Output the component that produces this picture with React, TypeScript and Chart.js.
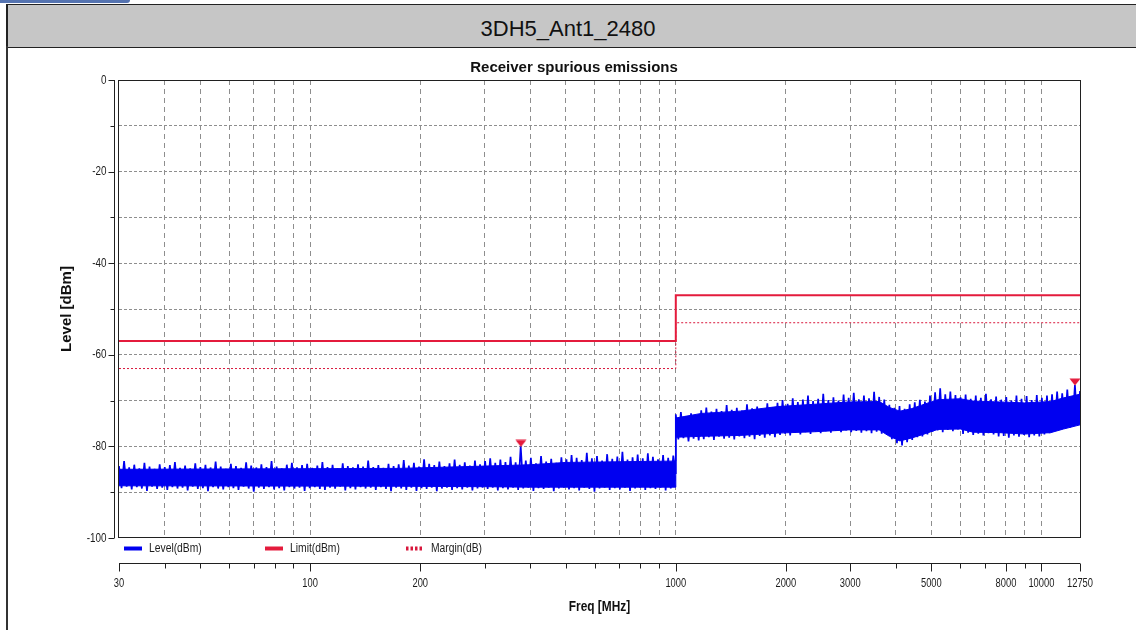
import React, { useEffect, useRef } from "react";
import { Chart, registerables } from "chart.js";

Chart.register(...registerables);

// ---------------- data ----------------
const pageTitle = "3DH5_Ant1_2480";
const chartTitle = "Receiver spurious emissions";
const xAxisTitle = "Freq [MHz]";
const yAxisTitle = "Level [dBm]";

const sweepStartMHz = [30, 1000];
const sweepStopMHz = [1000, 12750];

// measured level, 30 MHz .. 1000 MHz (dBm)
const level30to1000 = [
  -84.3, -89.1, -83.2, -88.8, -84.6, -89.4, -84.0, -88.9, -84.8, -89.2,
  -83.6, -89.7, -84.4, -88.8, -84.9, -89.3, -83.9, -89.0, -84.5, -89.5,
  -84.1, -88.9, -83.4, -89.2, -84.7, -89.0, -84.2, -89.6, -84.8, -88.8,
  -83.7, -89.3, -84.5, -89.1, -84.0, -89.8, -84.6, -88.9, -83.3, -89.2,
  -84.4, -89.4, -84.9, -88.9, -83.8, -89.1, -84.3, -89.5, -84.7, -88.8,
  -83.5, -89.2, -84.2, -89.9, -84.6, -89.0, -83.9, -89.3, -84.5, -88.9,
  -83.2, -89.4, -84.4, -89.1, -84.8, -89.6, -84.0, -88.9, -83.6, -89.2,
  -84.6, -89.0, -84.1, -89.7, -83.8, -89.1, -84.7, -88.9, -84.2, -89.3,
  -83.4, -89.5, -84.5, -89.0, -84.0, -89.2, -84.8, -88.8, -83.7, -89.6,
  -84.3, -89.1, -84.6, -89.4, -83.9, -88.9, -84.4, -89.2, -83.1, -89.0,
  -84.5, -89.5, -84.1, -88.9, -84.7, -89.3, -83.8, -89.8, -84.3, -89.0,
  -83.9, -89.2, -83.0, -89.5, -84.2, -89.0, -83.6, -89.7, -84.4, -89.1,
  -82.8, -89.3, -83.8, -89.0, -84.1, -89.8, -83.3, -89.2, -84.3, -89.0,
  -83.7, -89.5, -82.9, -89.1, -84.0, -89.4, -83.5, -89.0, -84.2, -89.6,
  -83.1, -89.2, -83.9, -89.0, -83.2, -89.3, -82.6, -89.0, -83.6, -89.6,
  -82.9, -89.1, -83.4, -89.4, -82.3, -89.0, -83.5, -89.5, -80.0, -89.2,
  -83.1, -89.0, -82.5, -89.7, -83.7, -89.1, -82.1, -89.3, -83.3, -89.0,
  -82.7, -89.8, -83.6, -89.2, -82.4, -89.0, -82.8, -89.4, -81.9, -89.1,
  -82.5, -89.6, -83.0, -89.0, -81.4, -89.3, -82.6, -89.9, -82.1, -89.2,
  -83.1, -89.0, -81.7, -89.5, -82.7, -89.1, -82.2, -89.4, -81.2, -89.0,
  -82.9, -89.7, -82.4, -89.2, -81.8, -89.0, -82.6, -89.5, -81.5, -89.1,
  -82.3, -89.3, -82.8, -89.0, -81.9, -89.6, -82.5, -89.2, -82.0, -86.0,
];

// measured level, 1000 MHz .. 12750 MHz (dBm)
const level1000to12750 = [
  -73.0, -78.5, -72.5, -78.2, -73.4, -78.9, -72.8, -78.3, -73.2, -78.7,
  -72.1, -78.4, -71.5, -78.0, -72.4, -78.6, -71.8, -77.9, -72.3, -78.3,
  -71.0, -78.1, -72.0, -78.5, -71.6, -77.8, -72.2, -78.2, -70.8, -77.9,
  -71.7, -78.4, -71.3, -77.7, -71.9, -78.1, -70.6, -77.6, -71.4, -78.0,
  -70.5, -77.5, -69.9, -77.2, -70.7, -77.6, -69.5, -77.0, -70.3, -77.4,
  -69.8, -76.9, -68.9, -77.3, -70.1, -76.8, -69.6, -77.1, -68.5, -76.7,
  -69.9, -77.0, -69.3, -76.6, -70.0, -76.9, -68.7, -76.5, -69.4, -76.9,
  -68.3, -76.6, -69.7, -77.0, -68.9, -76.7, -69.5, -77.1, -68.1, -76.8,
  -69.2, -77.2, -69.8, -77.4, -70.9, -78.4, -71.6, -79.3, -71.2, -79.8,
  -71.8, -79.1, -70.8, -78.6, -70.4, -78.0, -69.8, -77.8, -70.2, -77.4,
  -68.9, -76.8, -68.2, -76.5, -67.3, -76.9, -68.6, -76.4, -68.0, -76.7,
  -68.8, -76.3, -69.3, -77.3, -68.7, -77.0, -69.6, -77.5, -68.9, -77.2,
  -69.4, -77.6, -68.5, -77.1, -69.7, -77.4, -69.1, -77.8, -69.8, -77.7,
  -69.2, -78.1, -70.0, -77.6, -68.9, -77.9, -69.6, -77.5, -69.0, -78.0,
  -69.9, -77.6, -68.8, -77.8, -69.4, -77.4, -68.9, -77.1, -68.6, -76.6,
  -68.0, -76.2, -68.4, -75.9, -67.6, -75.8, -75.4, -66.6, -75.3, -67.9,
];

// dense core of the noise band, dBm
const coreFreq = [
  30, 175, 300, 400, 500, 1000, 1000, 1174, 1500, 1900, 2400, 2970, 3600, 3840,
  4100, 4400, 4700, 5200, 6000, 6500, 7700, 9000, 10600, 11500, 12750,
];
const coreTop = [
  -85.0, -84.8, -84.3, -84.0, -83.5, -83.2, -73.8, -72.8, -72.3, -71.3, -70.8,
  -70.3, -70.2, -71.5, -72.3, -71.8, -71.0, -69.8, -69.6, -70.1, -70.3, -70.5,
  -70.2, -69.4, -68.6,
];
const coreBottom = [
  -88.6, -88.7, -88.8, -88.9, -88.9, -88.9, -78.0, -77.8, -77.6, -77.1, -76.8,
  -76.4, -76.4, -77.8, -78.8, -78.2, -77.5, -76.3, -76.2, -76.9, -77.0, -77.3,
  -77.0, -76.2, -75.3,
];

const limitFreq = [30, 1000, 1000, 12750];
const limitLevel = [-57, -57, -47, -47];
const marginFreq = [30, 1000, 1000, 12750];
const marginLevel = [-63, -63, -53, -53];
const peakFreq = [377, 12350];
const peakLevel = [-80.0, -66.6];

const xGridValues = [
  40, 50, 60, 70, 80, 90, 100, 200, 300, 400, 500, 600, 700, 800, 900, 1000,
  2000, 3000, 4000, 5000, 6000, 7000, 8000, 9000, 10000,
];
const xTickLabels = [30, 100, 200, 1000, 2000, 3000, 5000, 8000, 10000, 12750];
const xRange = [30, 12750];
const yRange = [-100, 0];
const yGridValues = [-90, -80, -70, -60, -50, -40, -30, -20, -10];
const yTickMarks = [0, -10, -20, -30, -40, -50, -60, -70, -80, -90, -100];
const yTickLabels = [0, -20, -40, -60, -80, -100];
const legendLabels = ["Level(dBm)", "Limit(dBm)", "Margin(dB)"];

// ---------------- styles ----------------
const LEVEL_COLOR = "#0000f0";
const LIMIT_COLOR = "#e41b3c";
const MARGIN_COLOR = "#d8173c";
const GRID_COLOR = "#8e8e8e";
const TEXT_COLOR = "#1c1c1c";
const SANS = "'Liberation Sans', Arial, sans-serif";

function sweepPoints(start: number, stop: number, values: number[]) {
  const n = values.length;
  return values.map((v, i) => ({
    x: start * Math.pow(stop / start, i / (n - 1)),
    y: v,
  }));
}

function makeMarker(color: string) {
  const c = document.createElement("canvas");
  c.width = 12;
  c.height = 14;
  const g = c.getContext("2d")!;
  g.fillStyle = color;
  g.beginPath();
  g.moveTo(0.5, 0.5);
  g.lineTo(11.5, 0.5);
  g.lineTo(6, 7.5);
  g.closePath();
  g.fill();
  return c;
}

function drawText(
  ctx: CanvasRenderingContext2D,
  text: string,
  x: number,
  y: number,
  font: string,
  align: CanvasTextAlign,
  sx: number,
  color: string
) {
  ctx.save();
  ctx.font = font;
  ctx.fillStyle = color;
  ctx.textAlign = align;
  ctx.textBaseline = "middle";
  ctx.translate(x, y);
  ctx.scale(sx, 1);
  ctx.fillText(text, 0, 0);
  ctx.restore();
}

const framePlugin = {
  id: "frame",
  afterDraw(chart: any) {
    const { ctx, chartArea: a } = chart;
    const xs = chart.scales.x;
    const ys = chart.scales.y;
    ctx.save();

    // plot box
    ctx.strokeStyle = "#202020";
    ctx.lineWidth = 1;
    ctx.setLineDash([]);
    ctx.strokeRect(Math.round(a.left) - 0.5, Math.round(a.top) + 0.5,
      Math.round(a.right - a.left) + 1, Math.round(a.bottom - a.top) - 1);

    // y axis (offset to the left)
    const yAxisX = Math.round(a.left) - 4.5;
    ctx.beginPath();
    ctx.moveTo(yAxisX, ys.getPixelForValue(yRange[1]));
    ctx.lineTo(yAxisX, ys.getPixelForValue(yRange[0]));
    ctx.stroke();
    yTickMarks.forEach((v) => {
      const py = Math.round(ys.getPixelForValue(v)) + 0.5;
      const major = yTickLabels.includes(v);
      ctx.beginPath();
      ctx.moveTo(yAxisX, py);
      ctx.lineTo(yAxisX - (major ? 6 : 4), py);
      ctx.stroke();
    });
    yTickLabels.forEach((v) => {
      drawText(ctx, String(v), yAxisX - 8, ys.getPixelForValue(v),
        `13px ${SANS}`, "right", 0.76, TEXT_COLOR);
    });

    // x axis (offset below legend)
    const xAxisY = Math.round(a.bottom) + 25.5;
    ctx.beginPath();
    ctx.moveTo(xs.getPixelForValue(xRange[0]), xAxisY);
    ctx.lineTo(xs.getPixelForValue(xRange[1]), xAxisY);
    ctx.stroke();
    const allX = [xRange[0], ...xGridValues, xRange[1]];
    allX.forEach((v) => {
      const px = Math.round(xs.getPixelForValue(v)) + 0.5;
      const major = xTickLabels.includes(v);
      ctx.beginPath();
      ctx.moveTo(px, xAxisY);
      ctx.lineTo(px, xAxisY + (major ? 8 : 5));
      ctx.stroke();
    });
    xTickLabels.forEach((v) => {
      drawText(ctx, String(v), xs.getPixelForValue(v), xAxisY + 20,
        `13px ${SANS}`, "center", 0.72, TEXT_COLOR);
    });

    // legend
    const ly = Math.round(a.bottom) + 10.5;
    const items = [
      { x: 124, color: LEVEL_COLOR, dash: [] as number[], label: legendLabels[0] },
      { x: 265, color: LIMIT_COLOR, dash: [] as number[], label: legendLabels[1] },
      { x: 406, color: MARGIN_COLOR, dash: [2.5, 2] as number[], label: legendLabels[2] },
    ];
    items.forEach((it) => {
      ctx.strokeStyle = it.color;
      ctx.lineWidth = 4;
      ctx.setLineDash(it.dash);
      ctx.beginPath();
      ctx.moveTo(it.x, ly);
      ctx.lineTo(it.x + 18, ly);
      ctx.stroke();
      ctx.setLineDash([]);
      drawText(ctx, it.label, it.x + 25, ly, `12px ${SANS}`, "left", 0.86, TEXT_COLOR);
    });

    // titles
    drawText(ctx, chartTitle, 574, a.top - 12, `bold 15px ${SANS}`, "center", 1, "#111");
    drawText(ctx, xAxisTitle, (a.left + a.right) / 2, xAxisY + 44,
      `bold 14px ${SANS}`, "center", 0.85, "#111");
    ctx.save();
    ctx.translate(67, (a.top + a.bottom) / 2);
    ctx.rotate(-Math.PI / 2);
    drawText(ctx, yAxisTitle, 0, 0, `bold 15px ${SANS}`, "center", 1, "#111");
    ctx.restore();

    ctx.restore();
  },
};

function ChartCanvas() {
  const ref = useRef<HTMLCanvasElement | null>(null);
  useEffect(() => {
    if (!ref.current) return;
    const levelData = [
      ...sweepPoints(sweepStartMHz[0], sweepStopMHz[0], level30to1000),
      ...sweepPoints(sweepStartMHz[1], sweepStopMHz[1], level1000to12750),
    ];
    const coreTopData = coreFreq.map((f, i) => ({ x: f, y: coreTop[i] }));
    const coreBottomData = coreFreq.map((f, i) => ({ x: f, y: coreBottom[i] }));
    const limitData = limitFreq.map((f, i) => ({ x: f, y: limitLevel[i] }));
    const marginData = marginFreq.map((f, i) => ({ x: f, y: marginLevel[i] }));
    const peakData = peakFreq.map((f, i) => ({ x: f, y: peakLevel[i] }));
    const marker = makeMarker(LIMIT_COLOR);

    const chart = new Chart(ref.current, {
      type: "line",
      data: {
        datasets: [
          {
            label: "Peaks",
            data: peakData,
            showLine: false,
            pointStyle: marker as any,
            pointRadius: 6,
            order: 0,
          },
          {
            label: legendLabels[1],
            data: limitData,
            borderColor: LIMIT_COLOR,
            borderWidth: 2,
            pointRadius: 0,
            tension: 0,
            order: 1,
          },
          {
            label: legendLabels[2],
            data: marginData,
            borderColor: MARGIN_COLOR,
            borderWidth: 1,
            borderDash: [2, 2],
            pointRadius: 0,
            tension: 0,
            order: 2,
          },
          {
            label: legendLabels[0],
            data: levelData,
            borderColor: LEVEL_COLOR,
            borderWidth: 1.7,
            borderJoinStyle: "bevel",
            pointRadius: 0,
            tension: 0,
            order: 3,
          },
          {
            label: "Level core top",
            data: coreTopData,
            borderColor: LEVEL_COLOR,
            backgroundColor: LEVEL_COLOR,
            borderWidth: 1,
            pointRadius: 0,
            tension: 0,
            fill: "+1",
            order: 4,
          },
          {
            label: "Level core bottom",
            data: coreBottomData,
            borderColor: LEVEL_COLOR,
            borderWidth: 1,
            pointRadius: 0,
            tension: 0,
            fill: false,
            order: 5,
          },
        ],
      },
      options: {
        animation: false,
        responsive: false,
        devicePixelRatio: 1,
        events: [],
        parsing: false as any,
        layout: { padding: { left: 119, right: 56, top: 80, bottom: 92 } },
        plugins: {
          legend: { display: false },
          tooltip: { enabled: false },
          title: { display: false },
        },
        scales: {
          x: {
            type: "logarithmic",
            min: xRange[0],
            max: xRange[1],
            afterBuildTicks: (s: any) => {
              s.ticks = xGridValues.map((v) => ({ value: v }));
            },
            afterFit: (s: any) => {
              s.height = 0;
            },
            ticks: { display: false },
            grid: { color: GRID_COLOR, lineWidth: 1, drawTicks: false },
            border: { display: false, dash: [5, 4] },
          },
          y: {
            type: "linear",
            min: yRange[0],
            max: yRange[1],
            afterBuildTicks: (s: any) => {
              s.ticks = yGridValues.map((v) => ({ value: v }));
            },
            afterFit: (s: any) => {
              s.width = 0;
            },
            ticks: { display: false },
            grid: { color: GRID_COLOR, lineWidth: 1, drawTicks: false },
            border: { display: false, dash: [3, 2] },
          },
        },
      },
      plugins: [framePlugin],
    });
    return () => chart.destroy();
  }, []);
  return (
    <canvas
      ref={ref}
      width={1136}
      height={630}
      style={{ position: "absolute", left: 0, top: 0, width: 1136, height: 630 }}
    />
  );
}

export default function App() {
  return (
    <div
      style={{
        position: "absolute",
        left: 0,
        top: 0,
        width: 1136,
        height: 630,
        background: "#ffffff",
        overflow: "hidden",
      }}
    >
      <div
        style={{
          position: "absolute",
          left: 0,
          top: 0,
          width: 130,
          height: 3,
          background: "#5573b0",
          borderBottomRightRadius: 3,
        }}
      />
      <div
        style={{
          position: "absolute",
          left: 6,
          top: 4,
          width: 1140,
          height: 42,
          background: "#c6c6c6",
          borderTop: "1px solid #222",
          borderBottom: "1px solid #222",
          borderLeft: "2px solid #222",
        }}
      />
      <div
        style={{
          position: "absolute",
          left: 6,
          top: 46,
          width: 2,
          height: 590,
          background: "#333",
        }}
      />
      <div
        style={{
          position: "absolute",
          left: 0,
          top: 15,
          width: 1136,
          height: 28,
          lineHeight: "28px",
          textAlign: "center",
          fontFamily: "'Liberation Sans', Arial, sans-serif",
          fontSize: 22,
          color: "#111",
        }}
      >
        {pageTitle}
      </div>
      <ChartCanvas />
    </div>
  );
}
